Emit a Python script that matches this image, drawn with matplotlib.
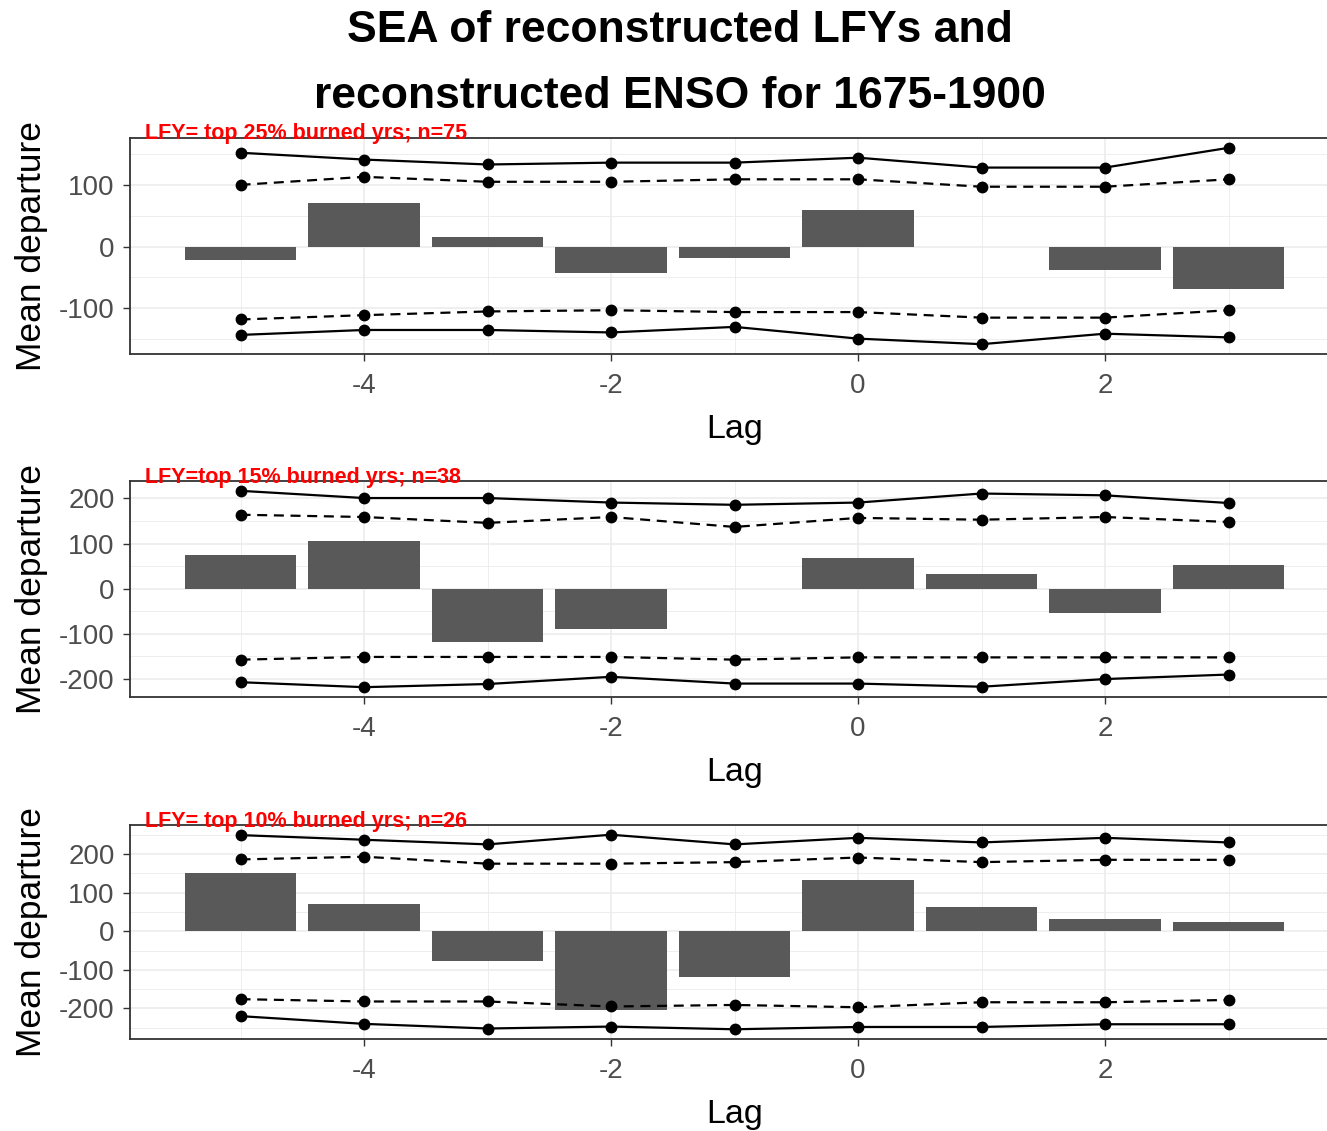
import matplotlib
matplotlib.use("Agg")
import matplotlib.pyplot as plt
from matplotlib.ticker import FixedLocator

plt.rcParams['font.family'] = ['Liberation Sans', 'DejaVu Sans']
plt.rcParams['axes.unicode_minus'] = False

lags = [-5, -4, -3, -2, -1, 0, 1, 2, 3]

labels = ["LFY= top 25% burned yrs; n=75",
          "LFY=top 15% burned yrs; n=38",
          "LFY= top 10% burned yrs; n=26"]

bars1 = [-22, 71, 16, -42, -18, 60, 0, -38, -69]
upper99_1 = [152, 141, 133, 136, 136, 144, 128, 128, 160]
upper95_1 = [100, 113, 105, 105, 109, 109, 97, 97, 109]
lower95_1 = [-118, -111, -105, -103, -106, -106, -115, -115, -103]
lower99_1 = [-143, -135, -135, -139, -130, -149, -158, -141, -147]

bars2 = [74, 106, -117, -90, 0, 69, 32, -53, 53]
upper99_2 = [217, 201, 201, 191, 186, 191, 211, 207, 190]
upper95_2 = [164, 159, 146, 159, 137, 157, 153, 159, 148]
lower95_2 = [-157, -151, -151, -151, -157, -152, -152, -152, -152]
lower99_2 = [-207, -218, -211, -195, -210, -210, -217, -200, -190]

bars3 = [151, 71, -78, -203, -118, 132, 62, 32, 25]
upper99_3 = [249, 237, 225, 250, 225, 242, 230, 242, 230]
upper95_3 = [186, 193, 175, 175, 179, 191, 179, 185, 185]
lower95_3 = [-176, -182, -182, -195, -191, -197, -184, -184, -178]
lower99_3 = [-220, -240, -252, -247, -254, -248, -248, -241, -241]

panels = [
    (bars1, upper99_1, upper95_1, lower95_1, lower99_1, [-100, 0, 100]),
    (bars2, upper99_2, upper95_2, lower95_2, lower99_2, [-200, -100, 0, 100, 200]),
    (bars3, upper99_3, upper95_3, lower95_3, lower99_3, [-200, -100, 0, 100, 200]),
]

W, H = 1327, 1131
fig = plt.figure(figsize=(W / 100, H / 100), dpi=100)

boxes = [(138, 354), (481, 697), (825, 1039)]
left_px = 130
xlim = (-5.895, 3.895)
px_per_lag = 123.5
width_px = (xlim[1] - xlim[0]) * px_per_lag

for i, (bars, u99, u95, l95, l99, yt) in enumerate(panels):
    top, bot = boxes[i]
    ax = fig.add_axes([left_px / W, 1 - bot / H, width_px / W, (bot - top) / H])
    ax.bar(lags, bars, width=0.9, color="#595959", zorder=2)
    for arr, ls in ((u99, "-"), (u95, "--"), (l95, "--"), (l99, "-")):
        ax.plot(lags, arr, color="black", linestyle=ls, linewidth=1.6,
                marker="o", markersize=7.5, zorder=3,
                dashes=(4.5, 3) if ls == "--" else (None, None))
    allv = bars + u99 + u95 + l95 + l99 + [0]
    lo, hi = min(allv), max(allv)
    pad = 0.05 * (hi - lo)
    ax.set_ylim(lo - pad, hi + pad)
    ax.set_xlim(*xlim)
    ax.xaxis.set_major_locator(FixedLocator([-4, -2, 0, 2]))
    ax.xaxis.set_minor_locator(FixedLocator([-5, -3, -1, 1, 3]))
    ax.yaxis.set_major_locator(FixedLocator(yt))
    minors = [v + 50 for v in yt] + [yt[0] - 50]
    ax.yaxis.set_minor_locator(FixedLocator(minors))
    ax.grid(which="major", color="#EBEBEB", linewidth=1.1, zorder=0)
    ax.grid(which="minor", color="#EBEBEB", linewidth=0.6, zorder=0)
    ax.set_axisbelow(True)
    ax.tick_params(which="major", length=5, width=1.0, color="#333333",
                   labelsize=20, labelcolor="#4D4D4D")
    ax.tick_params(axis="x", which="major", pad=8.5)
    ax.tick_params(axis="y", which="major", pad=6)
    ax.tick_params(which="minor", length=0)
    for s in ax.spines.values():
        s.set_color("#333333")
        s.set_linewidth(1.3)
    ax.set_xlabel("Lag", fontsize=24.5, labelpad=11)
    ax.set_ylabel("Mean departure", fontsize=25.5)
    ax.yaxis.set_label_coords(-(left_px - 48) / width_px, 0.5)
    ax.text(15 / width_px, 1.0 - 1.5 / (bot - top), labels[i], transform=ax.transAxes,
            color="#FF0000", fontsize=15.5, fontweight="bold", ha="left",
            va="baseline", zorder=5)

fig.text(680 / W, 1 - 31 / H, "SEA of reconstructed LFYs and", ha="center",
         va="center", fontsize=32, fontweight="bold")
fig.text(680 / W, 1 - 96 / H, "reconstructed ENSO for 1675-1900", ha="center",
         va="center", fontsize=32, fontweight="bold")

fig.savefig("out.png", dpi=100)
